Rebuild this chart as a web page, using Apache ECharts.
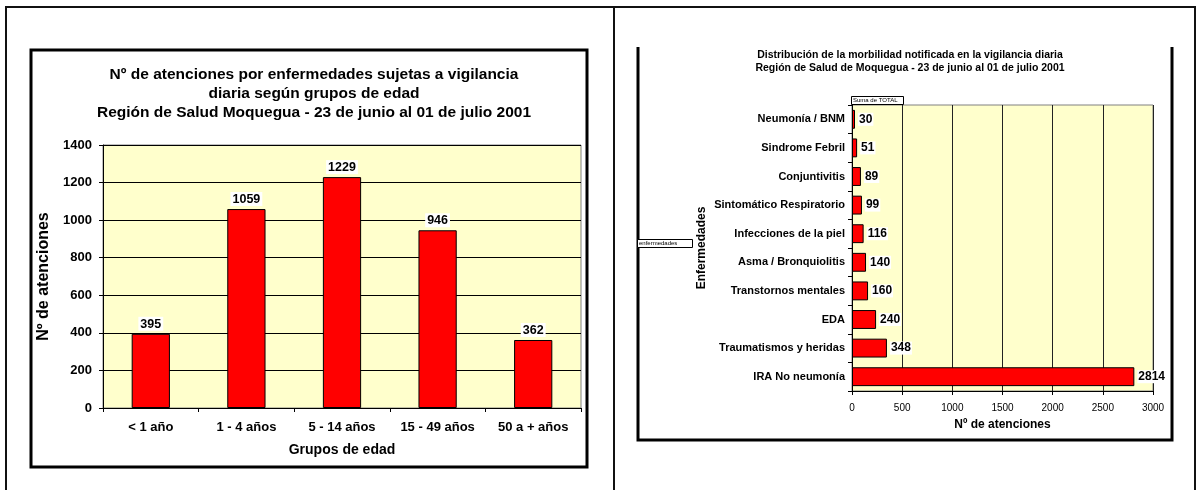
<!DOCTYPE html>
<html>
<head>
<meta charset="utf-8">
<script src="https://cdn.jsdelivr.net/npm/echarts@6/dist/echarts.min.js"></script>
<style>
html,body{margin:0;padding:0;background:#fff;}
#c{width:1197px;height:490px;}
</style>
</head>
<body>
<div id="c"></div>
<script>
// Left chart data
const ageGroups = ['< 1 año', '1 - 4 años', '5 - 14 años', '15 - 49 años', '50 a + años'];
const ageValues = [395, 1059, 1229, 946, 362];
const ageTicks = [0, 200, 400, 600, 800, 1000, 1200, 1400];

// Right chart data
const diseases = ['Neumonía / BNM', 'Sindrome Febril', 'Conjuntivitis', 'Sintomático Respiratorio',
  'Infecciones de la piel', 'Asma / Bronquiolitis', 'Transtornos mentales', 'EDA',
  'Traumatismos y heridas', 'IRA No neumonía'];
const diseaseValues = [30, 51, 89, 99, 116, 140, 160, 240, 348, 2814];
const diseaseTicks = [0, 500, 1000, 1500, 2000, 2500, 3000];

const leftTitle = ['Nº de atenciones por enfermedades sujetas a vigilancia',
  'diaria según grupos de edad',
  'Región de Salud Moquegua - 23 de junio al 01 de julio 2001'];
const rightTitle = ['Distribución de la morbilidad notificada en la vigilancia diaria',
  'Región de Salud de Moquegua - 23 de junio al 01 de julio 2001'];

const FONT = "'Liberation Sans', Arial, sans-serif";
const chart = echarts.init(document.getElementById('c'), null, {renderer: 'canvas'});

const option = {
  animation: false,
  textStyle: {fontFamily: FONT, color: '#000'},
  title: [
    {text: leftTitle.join('\n'), left: 309, top: 60, textAlign: 'center',
     textStyle: {fontFamily: FONT, fontSize: 15.5, fontWeight: 'bold', lineHeight: 19, color: '#000'}},
    {text: rightTitle.join('\n'), left: 905, top: 44, textAlign: 'center',
     textStyle: {fontFamily: FONT, fontSize: 10.5, fontWeight: 'bold', lineHeight: 13, color: '#000'}}
  ],
  grid: [
    {left: 103, top: 145, width: 478, height: 263, show: true, backgroundColor: '#FFFFCC',
     borderColor: '#808080', borderWidth: 1, containLabel: false},
    {left: 852, top: 105, width: 301, height: 286, show: true, backgroundColor: '#FFFFCC',
     borderColor: '#808080', borderWidth: 1, containLabel: false}
  ],
  xAxis: [
    {gridIndex: 0, type: 'category', data: ageGroups,
     axisLine: {show: true, lineStyle: {color: '#000', width: 1}},
     axisTick: {show: true, interval: 0, alignWithLabel: false, length: 4, lineStyle: {color: '#000'}},
     axisLabel: {interval: 0, margin: 13, fontSize: 13, fontWeight: 'bold', color: '#000', fontFamily: FONT},
     name: 'Grupos de edad', nameLocation: 'middle', nameGap: 35,
     nameTextStyle: {fontSize: 14, fontWeight: 'bold', color: '#000', fontFamily: FONT}},
    {gridIndex: 1, type: 'value', min: 0, max: 3000, interval: 500,
     axisLine: {show: true, lineStyle: {color: '#000', width: 1}},
     axisTick: {show: true, length: 4, lineStyle: {color: '#000'}},
     axisLabel: {margin: 12, fontSize: 10, color: '#000', fontFamily: FONT,
       formatter: v => diseaseTicks.includes(v) ? String(v) : ''},
     splitLine: {show: true, lineStyle: {color: '#222', width: 1}},
     name: 'Nº de atenciones', nameLocation: 'middle', nameGap: 28,
     nameTextStyle: {fontSize: 12, fontWeight: 'bold', color: '#000', fontFamily: FONT}}
  ],
  yAxis: [
    {gridIndex: 0, type: 'value', min: 0, max: 1400, interval: 200,
     axisLine: {show: true, lineStyle: {color: '#000', width: 1}},
     axisTick: {show: true, length: 4, lineStyle: {color: '#000'}},
     axisLabel: {margin: 11, fontSize: 13, fontWeight: 'bold', color: '#000', fontFamily: FONT,
       formatter: v => ageTicks.includes(v) ? String(v) : ''},
     splitLine: {show: true, lineStyle: {color: '#000', width: 1}},
     name: 'Nº de atenciones', nameLocation: 'middle', nameGap: 51, nameRotate: 90,
     nameTextStyle: {fontSize: 16, fontWeight: 'bold', color: '#000', fontFamily: FONT}},
    {gridIndex: 1, type: 'category', data: diseases, inverse: true,
     axisLine: {show: true, lineStyle: {color: '#000', width: 1}},
     axisTick: {show: true, interval: 0, alignWithLabel: false, length: 4, lineStyle: {color: '#000'}},
     axisLabel: {interval: 0, margin: 7, fontSize: 11, fontWeight: 'bold', color: '#000', fontFamily: FONT},
     name: 'Enfermedades', nameLocation: 'middle', nameGap: 144, nameRotate: 90,
     nameTextStyle: {fontSize: 12, fontWeight: 'bold', color: '#000', fontFamily: FONT}}
  ],
  series: [
    {type: 'bar', xAxisIndex: 0, yAxisIndex: 0, data: ageValues, barWidth: '40%',
     itemStyle: {color: '#FF0000', borderColor: '#000', borderWidth: 1},
     label: {show: true, position: 'top', distance: 3, fontSize: 12.5, fontWeight: 'bold',
       color: '#000', backgroundColor: '#fff', padding: [1, 2, 0, 2], fontFamily: FONT}},
    {type: 'bar', xAxisIndex: 1, yAxisIndex: 1, data: diseaseValues, barWidth: '66%',
     itemStyle: {color: '#FF0000', borderColor: '#000', borderWidth: 1},
     label: {show: true, position: 'right', distance: 3, fontSize: 12, fontWeight: 'bold',
       color: '#000', backgroundColor: '#fff', padding: [1, 1, 0, 1], fontFamily: FONT}}
  ],
  graphic: [
    {type: 'rect', shape: {x: 6, y: 7, width: 1189, height: 520}, silent: true,
     style: {fill: 'none', stroke: '#111', lineWidth: 2}},
    {type: 'line', shape: {x1: 614, y1: 7, x2: 614, y2: 490}, silent: true,
     style: {stroke: '#111', lineWidth: 2}},
    {type: 'rect', shape: {x: 31, y: 50, width: 556, height: 417}, silent: true,
     style: {fill: 'none', stroke: '#000', lineWidth: 3}},
    {type: 'polyline', shape: {points: [[638, 47], [638, 440], [1172, 440], [1172, 47]]}, silent: true,
     style: {fill: 'none', stroke: '#000', lineWidth: 3}},
    {type: 'rect', shape: {x: 851.5, y: 96.5, width: 52, height: 8}, silent: true,
     style: {fill: '#fff', stroke: '#000', lineWidth: 1}},
    {type: 'text', x: 853, y: 97, silent: true,
     style: {text: 'Suma de TOTAL', fontSize: 6, fontFamily: FONT, fill: '#000'}},
    {type: 'rect', shape: {x: 637.5, y: 239.5, width: 55, height: 8}, silent: true,
     style: {fill: '#fff', stroke: '#000', lineWidth: 1}},
    {type: 'text', x: 639, y: 240.5, silent: true,
     style: {text: 'enfermedades', fontSize: 6, fontFamily: FONT, fill: '#000'}}
  ]
};
chart.setOption(option);
</script>
</body>
</html>
